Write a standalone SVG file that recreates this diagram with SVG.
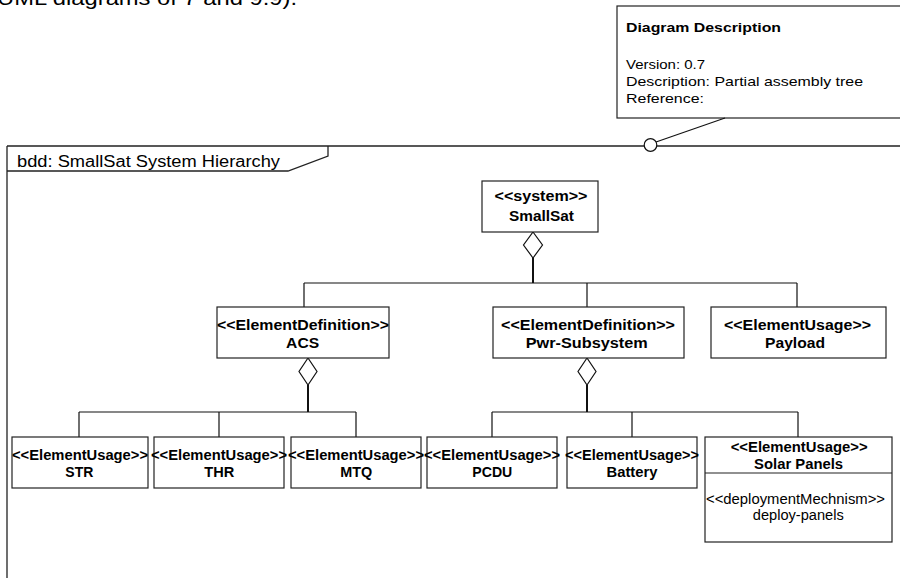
<svg xmlns="http://www.w3.org/2000/svg" width="900" height="578" viewBox="0 0 900 578">
  <style>
    .box { fill: #fff; stroke: #222; stroke-width: 1.2; }
    .frame { fill: none; stroke: #222; stroke-width: 1.3; }
    .wire { fill: none; stroke: #111; stroke-width: 1.2; }
    .stem { fill: none; stroke: #111; stroke-width: 2; }
    .agg { fill: #fff; stroke: #111; stroke-width: 1.2; }
    .t { font-family: "Liberation Sans", Arial, sans-serif; fill: #000; }
    .b { font-size: 14px; font-weight: bold; text-anchor: middle; }
    .r { font-size: 14px; text-anchor: middle; }
    .n { font-size: 13.5px; }
  </style>

  <!-- partial caption line at the top edge -->
  <text class="t" x="-3" y="5" font-size="20" textLength="300" lengthAdjust="spacingAndGlyphs">UML diagrams of 7 and 9.9).</text>

  <!-- diagram frame -->
  <g id="frame">
    <path class="frame" d="M7,146 H905 M7,146 V580"/>
    <path class="frame" d="M7,171 H288 L328,156 V146"/>
    <text class="t" x="17" y="167" font-size="16" textLength="263" lengthAdjust="spacingAndGlyphs">bdd: SmallSat System Hierarchy</text>
  </g>

  <!-- comment note -->
  <g id="note">
    <rect class="box" x="617" y="6" width="295" height="112"/>
    <text class="t n" x="626" y="32" font-size="14" font-weight="bold" textLength="155" lengthAdjust="spacingAndGlyphs">Diagram Description</text>
    <text class="t n" x="626" y="69" textLength="79" lengthAdjust="spacingAndGlyphs">Version: 0.7</text>
    <text class="t n" x="626" y="86" textLength="237" lengthAdjust="spacingAndGlyphs">Description: Partial assembly tree</text>
    <text class="t n" x="626" y="103" textLength="78" lengthAdjust="spacingAndGlyphs">Reference:</text>
  </g>

  <!-- connectors -->
  <g id="connectors">
    <!-- note anchor -->
    <path class="wire" d="M725,118 L656,142"/>
    <circle class="agg" cx="650.5" cy="145" r="6.3"/>

    <!-- SmallSat aggregation -->
    <path class="stem" d="M533,258 V283"/>
    <path class="wire" d="M304,283 H797 M304,283 V307 M587,283 V307 M797,283 V307"/>
    <polygon class="agg" points="533,232 542.5,245 533,258 523.5,245"/>

    <!-- ACS aggregation -->
    <path class="stem" d="M308,385 V412"/>
    <path class="wire" d="M79,412 H356 M79,412 V437 M219,412 V437 M356,412 V437"/>
    <polygon class="agg" points="308,358 317,371.5 308,385 299,371.5"/>

    <!-- Pwr-Subsystem aggregation -->
    <path class="stem" d="M587,385 V412"/>
    <path class="wire" d="M492,412 H798 M492,412 V437 M632,412 V437 M798,412 V437"/>
    <polygon class="agg" points="587,358 596,371.5 587,385 578,371.5"/>
  </g>

  <!-- blocks -->
  <g id="smallsat">
    <rect class="box" x="482" y="181" width="116" height="51"/>
    <text class="t b" x="541" y="201" textLength="93" lengthAdjust="spacingAndGlyphs">&lt;&lt;system&gt;&gt;</text>
    <text class="t b" x="541.5" y="221" textLength="65" lengthAdjust="spacingAndGlyphs">SmallSat</text>
  </g>

  <g id="acs">
    <rect class="box" x="217" y="307" width="172" height="51"/>
    <text class="t b" x="303" y="330" textLength="172" lengthAdjust="spacingAndGlyphs">&lt;&lt;ElementDefinition&gt;&gt;</text>
    <text class="t b" x="302.6" y="348" textLength="33" lengthAdjust="spacingAndGlyphs">ACS</text>
  </g>

  <g id="pwr-subsystem">
    <rect class="box" x="493" y="307" width="191" height="51"/>
    <text class="t b" x="588" y="330" textLength="174" lengthAdjust="spacingAndGlyphs">&lt;&lt;ElementDefinition&gt;&gt;</text>
    <text class="t b" x="586.7" y="348" textLength="122" lengthAdjust="spacingAndGlyphs">Pwr-Subsystem</text>
  </g>

  <g id="payload">
    <rect class="box" x="711" y="307" width="175" height="51"/>
    <text class="t b" x="797.5" y="330" textLength="147" lengthAdjust="spacingAndGlyphs">&lt;&lt;ElementUsage&gt;&gt;</text>
    <text class="t b" x="795" y="348" textLength="60" lengthAdjust="spacingAndGlyphs">Payload</text>
  </g>

  <g id="str">
    <rect class="box" x="12" y="437" width="136" height="51"/>
    <text class="t b" x="80" y="460" textLength="136" lengthAdjust="spacingAndGlyphs">&lt;&lt;ElementUsage&gt;&gt;</text>
    <text class="t b" x="79.3" y="477" textLength="28" lengthAdjust="spacingAndGlyphs">STR</text>
  </g>

  <g id="thr">
    <rect class="box" x="154" y="437" width="130" height="51"/>
    <text class="t b" x="219" y="460" textLength="136" lengthAdjust="spacingAndGlyphs">&lt;&lt;ElementUsage&gt;&gt;</text>
    <text class="t b" x="219.3" y="477" textLength="30" lengthAdjust="spacingAndGlyphs">THR</text>
  </g>

  <g id="mtq">
    <rect class="box" x="291" y="437" width="130" height="51"/>
    <text class="t b" x="356" y="460" textLength="136" lengthAdjust="spacingAndGlyphs">&lt;&lt;ElementUsage&gt;&gt;</text>
    <text class="t b" x="356.2" y="477" textLength="32" lengthAdjust="spacingAndGlyphs">MTQ</text>
  </g>

  <g id="pcdu">
    <rect class="box" x="427" y="437" width="130" height="51"/>
    <text class="t b" x="492" y="460" textLength="136" lengthAdjust="spacingAndGlyphs">&lt;&lt;ElementUsage&gt;&gt;</text>
    <text class="t b" x="492.3" y="477" textLength="40" lengthAdjust="spacingAndGlyphs">PCDU</text>
  </g>

  <g id="battery">
    <rect class="box" x="567" y="437" width="130" height="51"/>
    <text class="t b" x="632" y="460" textLength="134" lengthAdjust="spacingAndGlyphs">&lt;&lt;ElementUsage&gt;&gt;</text>
    <text class="t b" x="632" y="477" textLength="51" lengthAdjust="spacingAndGlyphs">Battery</text>
  </g>

  <g id="solar-panels">
    <rect class="box" x="705" y="437" width="187" height="105"/>
    <path class="box" d="M705,473 H892"/>
    <text class="t b" x="799.2" y="452" textLength="137" lengthAdjust="spacingAndGlyphs">&lt;&lt;ElementUsage&gt;&gt;</text>
    <text class="t b" x="798.6" y="468.5" textLength="89" lengthAdjust="spacingAndGlyphs">Solar Panels</text>
    <text class="t r" x="795.5" y="504" textLength="179" lengthAdjust="spacingAndGlyphs">&lt;&lt;deploymentMechnism&gt;&gt;</text>
    <text class="t r" x="798.3" y="520" textLength="91" lengthAdjust="spacingAndGlyphs">deploy-panels</text>
  </g>
</svg>
